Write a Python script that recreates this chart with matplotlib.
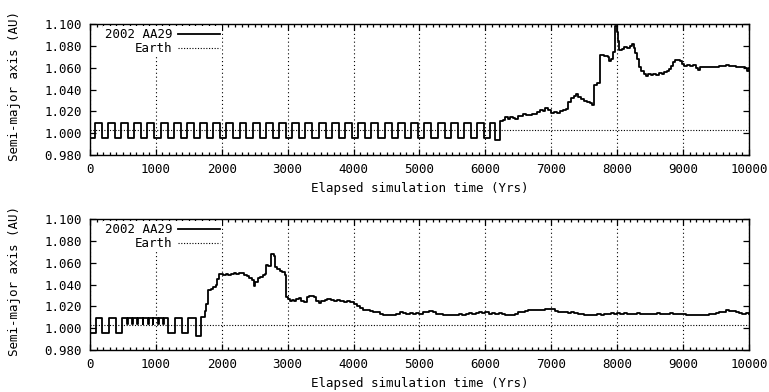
import matplotlib
matplotlib.use("Agg")
import matplotlib.pyplot as plt
from matplotlib.ticker import MultipleLocator, FormatStrFormatter

plt.rcParams["font.family"] = ["DejaVu Sans Mono"]
plt.rcParams["font.size"] = 9

# --- run 1 (upper panel) -------------------------------------------------
# horseshoe phase: years where the semi-major axis jumps up / drops back
HIGH_AU = 1.0095
LOW_AU = 0.996
EARTH_AU = 1.003

top_rise = [75, 275, 475, 670, 870, 1075, 1270, 1470, 1670, 1870,
            2070, 2270, 2470, 2670, 2870, 3070, 3270, 3470, 3670, 3870,
            4070, 4270, 4475, 4675, 4875, 5075, 5275, 5475, 5670, 5870, 6070]
top_fall = [180, 380, 580, 775, 975, 1180, 1375, 1575, 1775, 1975,
            2175, 2375, 2575, 2775, 2975, 3175, 3375, 3575, 3775, 3975,
            4175, 4375, 4580, 4780, 4980, 5180, 5380, 5580, 5775, 5975, 6150]

# after ~6200 yrs the object leaves the horseshoe and drifts outward
top_drift_years = [6150, 6222, 6260, 6300, 6340, 6380, 6420, 6450, 6490, 6530,
                   6575, 6620, 6660, 6700, 6740, 6790, 6830, 6870, 6910, 6950,
                   6990, 7040, 7080, 7130, 7180, 7230, 7260, 7300, 7340, 7375,
                   7410, 7450, 7500, 7540, 7580, 7620, 7650, 7700, 7735, 7800,
                   7860, 7880, 7910, 7935, 7960, 7990, 8010, 8030, 8070, 8110,
                   8150, 8190, 8220, 8250, 8270, 8300, 8330, 8360, 8400, 8430,
                   8470, 8510, 8550, 8590, 8630, 8675, 8710, 8750, 8780, 8820,
                   8850, 8880, 8920, 8950, 8980, 9010, 9060, 9100, 9150, 9190,
                   9220, 9250, 9300, 9350, 9400, 9450, 9500, 9550, 9600, 9650,
                   9700, 9750, 9800, 9850, 9900, 9940, 9975, 10000]
top_drift_au = [0.994, 1.0115, 1.0125, 1.0145, 1.0135, 1.0150, 1.0140, 1.0135, 1.0160, 1.0155,
                1.0180, 1.0170, 1.0165, 1.0180, 1.0175, 1.0195, 1.0210, 1.0200, 1.0230, 1.0215,
                1.0190, 1.0195, 1.0185, 1.0200, 1.0215, 1.0225, 1.0290, 1.0320, 1.0345, 1.0362,
                1.0330, 1.0315, 1.0300, 1.0285, 1.0275, 1.0260, 1.0440, 1.0460, 1.0720, 1.0710,
                1.0700, 1.0660, 1.0680, 1.0750, 1.0980, 1.0930, 1.0850, 1.0760, 1.0770, 1.0790,
                1.0780, 1.0800, 1.0815, 1.0780, 1.0740, 1.0680, 1.0610, 1.0570, 1.0540, 1.0525,
                1.0540, 1.0535, 1.0545, 1.0535, 1.0550, 1.0540, 1.0560, 1.0570, 1.0590, 1.0620,
                1.0650, 1.0670, 1.0675, 1.0660, 1.0640, 1.0620, 1.0625, 1.0615, 1.0625, 1.0595,
                1.0580, 1.0605, 1.0610, 1.0605, 1.0610, 1.0612, 1.0610, 1.0618, 1.0620, 1.0625,
                1.0615, 1.0620, 1.0605, 1.0608, 1.0612, 1.0595, 1.0575, 1.0600]

# --- run 2 (lower panel) -------------------------------------------------
bottom_years = [0, 85, 187, 293, 400, 480, 560, 572, 640, 652,
                720, 732, 800, 812, 880, 892, 950, 962, 1030, 1042,
                1110, 1122, 1187, 1288, 1389, 1490, 1606, 1682, 1742, 1760,
                1790, 1830, 1870, 1910, 1935, 1960, 1990, 2020, 2060, 2100,
                2140, 2180, 2220, 2260, 2300, 2340, 2380, 2420, 2460, 2490,
                2510, 2545, 2580, 2620, 2650, 2667, 2700, 2740, 2753, 2790,
                2800, 2840, 2880, 2920, 2960, 2975, 3000, 3030, 3060, 3090,
                3130, 3166, 3200, 3242, 3290, 3318, 3350, 3393, 3430, 3470,
                3510, 3560, 3600, 3650, 3700, 3750, 3800, 3850, 3900, 3950,
                4000, 4050, 4100, 4150, 4200, 4250, 4300, 4350, 4400, 4450,
                4500, 4550, 4600, 4650, 4700, 4750, 4800, 4850, 4900, 4950,
                5000, 5050, 5100, 5150, 5200, 5250, 5300, 5350, 5400, 5450,
                5500, 5550, 5600, 5650, 5700, 5750, 5800, 5850, 5900, 5950,
                6000, 6050, 6100, 6150, 6200, 6250, 6300, 6350, 6400, 6450,
                6500, 6550, 6600, 6650, 6700, 6750, 6800, 6850, 6900, 6950,
                7000, 7050, 7100, 7150, 7200, 7250, 7300, 7350, 7400, 7450,
                7500, 7550, 7600, 7650, 7700, 7750, 7800, 7850, 7900, 7950,
                8000, 8050, 8100, 8150, 8200, 8250, 8300, 8350, 8400, 8450,
                8500, 8550, 8600, 8650, 8700, 8750, 8800, 8850, 8900, 8950,
                9000, 9050, 9100, 9150, 9200, 9250, 9300, 9350, 9400, 9450,
                9500, 9550, 9600, 9650, 9700, 9750, 9800, 9850, 9900, 9950, 10000]
bottom_au = [0.996, 1.0095, 0.996, 1.0095, 0.996, 1.0095, 1.004, 1.0095, 1.004, 1.0095,
             1.004, 1.0095, 1.004, 1.0095, 1.004, 1.0095, 1.004, 1.0095, 1.004, 1.0095,
             1.004, 1.0095, 0.996, 1.0095, 0.996, 1.0095, 0.993, 1.0100, 1.0160, 1.0220,
             1.0350, 1.0360, 1.0380, 1.0400, 1.0450, 1.0500, 1.0495, 1.0490, 1.0500, 1.0485,
             1.0495, 1.0505, 1.0500, 1.0505, 1.0505, 1.0490, 1.0480, 1.0460, 1.0440, 1.0385,
             1.0420, 1.0460, 1.0470, 1.0490, 1.0500, 1.0580, 1.0570, 1.0580, 1.0685, 1.0660,
             1.0560, 1.0540, 1.0530, 1.0520, 1.0490, 1.0290, 1.0270, 1.0250, 1.0260, 1.0250,
             1.0270, 1.0275, 1.0250, 1.0240, 1.0290, 1.0300, 1.0300, 1.0290, 1.0250, 1.0230,
             1.0250, 1.0260, 1.0270, 1.0260, 1.0250, 1.0255, 1.0250, 1.0245, 1.0250, 1.0240,
             1.0225, 1.0200, 1.0185, 1.0170, 1.0165, 1.0160, 1.0150, 1.0145, 1.0130, 1.0125,
             1.0120, 1.0120, 1.0125, 1.0135, 1.0145, 1.0140, 1.0135, 1.0140, 1.0130, 1.0140,
             1.0135, 1.0145, 1.0150, 1.0155, 1.0145, 1.0135, 1.0130, 1.0125, 1.0120, 1.0125,
             1.0120, 1.0125, 1.0130, 1.0125, 1.0135, 1.0140, 1.0135, 1.0140, 1.0145, 1.0140,
             1.0145, 1.0135, 1.0140, 1.0135, 1.0140, 1.0130, 1.0125, 1.0120, 1.0125, 1.0130,
             1.0145, 1.0150, 1.0155, 1.0165, 1.0165, 1.0170, 1.0165, 1.0170, 1.0175, 1.0180,
             1.0175, 1.0155, 1.0150, 1.0145, 1.0150, 1.0140, 1.0145, 1.0140, 1.0135, 1.0130,
             1.0125, 1.0120, 1.0125, 1.0120, 1.0130, 1.0125, 1.0130, 1.0135, 1.0140, 1.0135,
             1.0140, 1.0135, 1.0140, 1.0135, 1.0130, 1.0135, 1.0140, 1.0135, 1.0130, 1.0135,
             1.0130, 1.0135, 1.0140, 1.0135, 1.0130, 1.0135, 1.0140, 1.0135, 1.0130, 1.0135,
             1.0130, 1.0125, 1.0120, 1.0125, 1.0120, 1.0125, 1.0120, 1.0125, 1.0130, 1.0135,
             1.0140, 1.0145, 1.0150, 1.0165, 1.0160, 1.0155, 1.0150, 1.0140, 1.0135, 1.0140, 1.0130]

earth_years = [0, 10000]
earth_au = [EARTH_AU, EARTH_AU]


def horseshoe_steps(rise, fall):
    """Turn jump-up / drop-back years into a step series starting low."""
    years, au = [0], [LOW_AU]
    for r, f in zip(rise, fall):
        years += [r, f]
        au += [HIGH_AU, LOW_AU]
    return years, au


osc_years, osc_au = horseshoe_steps(top_rise, top_fall)
top_years = osc_years[:-1] + top_drift_years
top_au = osc_au[:-1] + top_drift_au


def style_axes(ax):
    ax.set_xlim(0, 10000)
    ax.set_ylim(0.98, 1.10)
    ax.xaxis.set_major_locator(MultipleLocator(1000))
    ax.xaxis.set_minor_locator(MultipleLocator(100))
    ax.yaxis.set_major_locator(MultipleLocator(0.02))
    ax.yaxis.set_major_formatter(FormatStrFormatter("%.3f"))
    ax.tick_params(which="both", direction="in", top=True, right=True,
                   width=0.9, pad=6, labelsize=9)
    ax.tick_params(which="major", length=4.5)
    ax.tick_params(which="minor", length=2.2)
    for s in ax.spines.values():
        s.set_linewidth(1.0)
    ax.grid(axis="x", which="major", color="black",
            linestyle=(0, (1, 2.5)), linewidth=0.8)
    ax.set_xlabel("Elapsed simulation time (Yrs)")
    ax.set_ylabel("Semi-major axis (AU)")
    ax.xaxis.set_label_coords(0.5, -0.21)
    ax.yaxis.set_label_coords(-0.105, 0.53)


fig = plt.figure(figsize=(7.69, 3.92), dpi=100)
ax_top = fig.add_axes([0.117, 0.6046, 0.857, 0.3334])
ax_bot = fig.add_axes([0.117, 0.1071, 0.857, 0.3334])

for ax, yrs, au in [(ax_top, top_years, top_au), (ax_bot, bottom_years, bottom_au)]:
    style_axes(ax)
    ax.plot(yrs, au, color="black", lw=1.3, drawstyle="steps-post", label="2002 AA29")
    ax.plot(earth_years, earth_au, color="black", lw=0.8,
            linestyle=(0, (1, 1.5)), label="Earth")
    ax.legend(loc="upper left", bbox_to_anchor=(0.02, 0.985), markerfirst=False,
              frameon=True, fancybox=False, edgecolor="none", facecolor="white",
              framealpha=1, borderpad=0.15, borderaxespad=0, handlelength=3.4,
              handletextpad=0.4, labelspacing=0.1, fontsize=9)

fig.savefig("out.png", dpi=100)
